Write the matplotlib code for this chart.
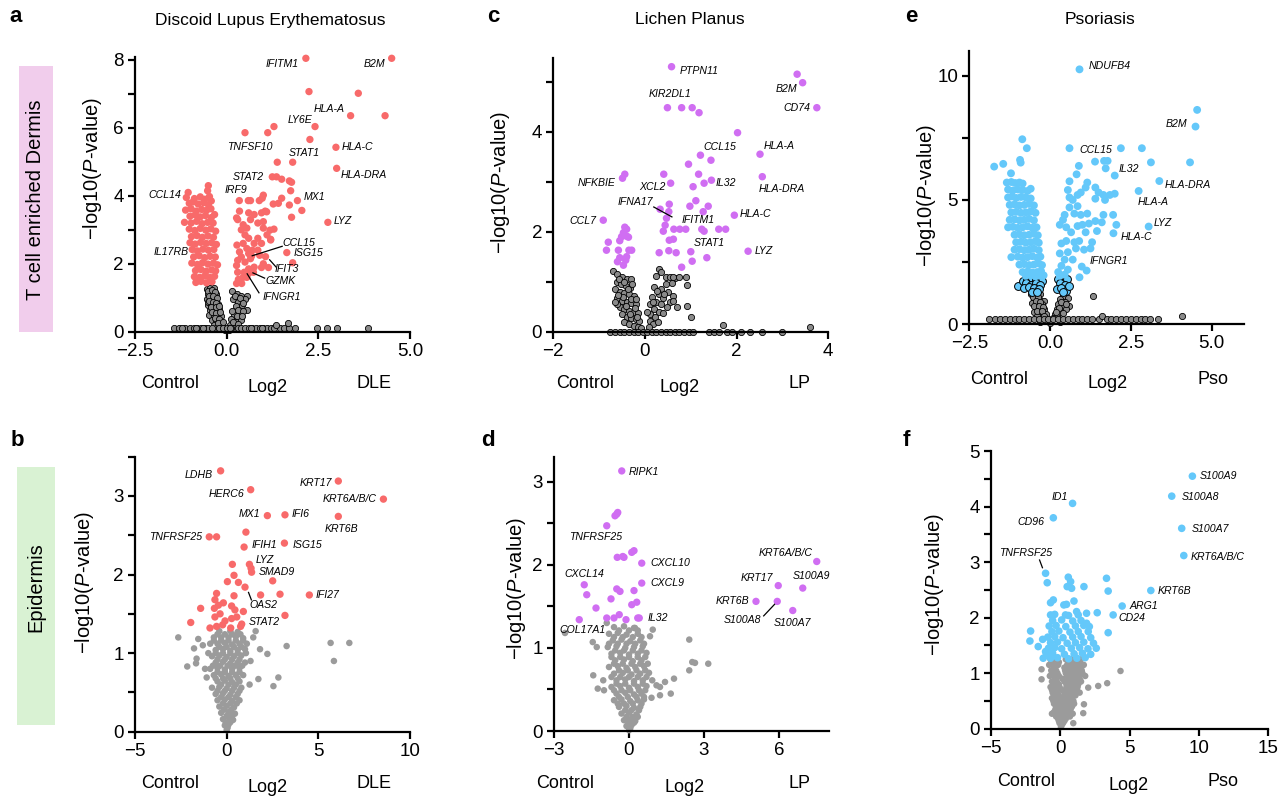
import matplotlib
matplotlib.use('Agg')
import matplotlib.pyplot as plt
from matplotlib.patches import Rectangle
from matplotlib.ticker import MultipleLocator, FixedLocator

plt.rcParams['font.family'] = ['Liberation Sans', 'DejaVu Sans']
plt.rcParams['mathtext.fontset'] = 'custom'
plt.rcParams['mathtext.rm'] = 'Liberation Sans'
plt.rcParams['mathtext.it'] = 'Liberation Sans:italic'

# ---------------- DATA ----------------
# Panel a: DLE, T cell enriched dermis
a_sig_top = [(2.16, 8.05), (4.5, 8.05), (2.245, 7.07), (3.59, 7.02), (3.38, 6.36), (4.32, 6.36),
             (2.41, 6.04), (1.29, 6.04), (1.12, 5.86), (0.5, 5.86), (2.27, 5.66), (2.98, 5.43),
             (1.38, 4.99), (1.8, 4.99), (3.0, 4.81), (1.245, 4.56), (1.36, 4.56), (1.5, 4.49),
             (1.71, 4.44), (1.77, 4.40), (1.745, 4.15), (0.345, 3.86), (0.59, 3.86), (0.65, 3.86),
             (0.89, 3.86), (1.0, 4.02), (0.97, 3.93), (1.93, 3.86), (2.05, 3.57), (1.71, 3.73),
             (1.5, 3.93), (1.41, 3.78), (1.27, 3.76), (1.09, 3.53), (2.76, 3.22), (1.77, 3.37),
             (1.64, 2.33), (1.8, 2.03), (1.06, 2.21), (1.14, 1.89), (0.95, 1.89), (0.73, 1.75),
             (0.6, 1.72), (0.32, 1.54), (0.27, 1.42), (0.41, 1.42), (1.18, 2.99), (1.29, 3.02),
             (1.0, 3.24), (1.2, 2.72), (-1.05, 4.1), (-0.5, 4.3)]
a_sig_right = [(0.45, 1.6), (0.3, 1.75), (0.27, 1.95), (0.3, 2.1), (0.4, 2.2), (0.35, 2.35),
               (0.28, 2.55), (0.45, 2.6), (0.55, 2.45), (0.6, 2.3), (0.5, 2.05), (0.65, 2.15),
               (0.7, 2.4), (0.75, 2.6), (0.85, 2.75), (0.6, 2.75), (0.5, 2.85), (0.4, 3.0),
               (0.3, 3.3), (0.45, 3.15), (0.55, 3.05), (0.65, 3.3), (0.75, 3.45), (0.6, 3.5),
               (0.35, 3.55), (0.27, 3.35), (0.95, 3.5), (1.05, 3.55), (0.85, 3.2), (1.0, 3.05),
               (1.1, 2.85), (0.95, 2.6), (0.85, 2.4), (1.2, 2.7), (0.9, 2.25), (1.0, 2.0),
               (0.75, 1.9), (0.6, 1.85), (0.55, 1.6), (0.48, 1.75), (0.68, 2.23)]
a_sig_left = [(-0.52, 4.15), (-1.1, 3.95), (-0.88, 3.92), (-0.72, 3.97), (-0.6, 3.9), (-0.47, 3.98),
              (-1.02, 3.78), (-0.92, 3.82), (-0.78, 3.76), (-0.63, 3.8), (-0.5, 3.74), (-0.42, 3.85),
              (-1.12, 3.58), (-0.97, 3.62), (-0.83, 3.55), (-0.68, 3.6), (-0.55, 3.57), (-0.43, 3.62),
              (-1.0, 3.4), (-0.86, 3.44), (-0.72, 3.38), (-0.58, 3.42), (-0.42, 3.36), (-0.33, 3.45),
              (-1.15, 3.22), (-0.97, 3.2), (-0.82, 3.25), (-0.67, 3.18), (-0.52, 3.22), (-0.37, 3.2),
              (-1.02, 3.02), (-0.87, 2.98), (-0.72, 3.04), (-0.57, 2.99), (-0.43, 3.03), (-0.3, 2.96),
              (-0.96, 2.8), (-0.81, 2.83), (-0.66, 2.78), (-0.51, 2.82), (-0.36, 2.78),
              (-1.0, 2.62), (-0.86, 2.58), (-0.71, 2.63), (-0.56, 2.6), (-0.41, 2.62), (-0.28, 2.57),
              (-0.94, 2.42), (-0.8, 2.38), (-0.65, 2.43), (-0.5, 2.4), (-0.35, 2.42),
              (-0.9, 2.2), (-0.75, 2.24), (-0.6, 2.18), (-0.45, 2.22), (-0.31, 2.2),
              (-0.95, 2.02), (-0.8, 1.98), (-0.66, 2.03), (-0.51, 1.99), (-0.36, 2.02), (-0.25, 1.97),
              (-0.85, 1.8), (-0.7, 1.83), (-0.56, 1.78), (-0.41, 1.82), (-0.3, 1.79),
              (-0.88, 1.62), (-0.74, 1.6), (-0.6, 1.64), (-0.46, 1.6), (-0.33, 1.63),
              (-0.84, 1.45), (-0.7, 1.48), (-0.55, 1.44), (-0.4, 1.47)]
a_ns = [(-0.55, 1.25), (-0.45, 1.3), (-0.35, 1.28), (-0.5, 1.1), (-0.4, 1.15), (-0.3, 1.1),
        (-0.55, 0.95), (-0.42, 0.98), (-0.3, 0.92), (-0.5, 0.8), (-0.38, 0.78), (-0.25, 0.82),
        (-0.45, 0.65), (-0.33, 0.62), (-0.22, 0.68), (-0.48, 0.5), (-0.35, 0.48), (-0.24, 0.52),
        (-0.15, 0.45), (-0.4, 0.35), (-0.28, 0.33), (-0.18, 0.3), (-0.35, 0.2), (-0.22, 0.18),
        (-0.12, 0.2), (-0.3, 0.1), (-0.15, 0.08), (-0.05, 0.05), (-0.52, 0.88), (-0.44, 0.72),
        (-0.5, 1.2), (-0.4, 1.22), (-0.32, 1.18), (-0.47, 1.04), (-0.36, 1.06), (-0.26, 1.0),
        (-0.48, 0.9), (-0.36, 0.88), (-0.28, 0.85), (-0.42, 0.72), (-0.3, 0.72), (-0.2, 0.75),
        (-0.4, 0.58), (-0.28, 0.56), (-0.18, 0.58), (-0.32, 0.4), (-0.2, 0.38), (-0.25, 0.25),
        (-0.1, 0.28), (-0.2, 0.12),
        (0.15, 1.2), (0.28, 1.12), (0.4, 1.05), (0.55, 1.05), (0.5, 0.95), (0.18, 0.95),
        (0.3, 0.88), (0.25, 0.75), (0.42, 0.78), (0.55, 0.65), (0.35, 0.55), (0.2, 0.5),
        (0.12, 0.38), (0.25, 0.3), (0.38, 0.35), (0.1, 0.2), (0.2, 0.12), (0.05, 0.05),
        (0.22, 1.05), (0.35, 0.98), (0.45, 0.85), (0.3, 0.65), (0.45, 0.6), (0.15, 0.62),
        (0.28, 0.45), (0.18, 0.28), (0.3, 0.22), (0.42, 0.45), (0.12, 0.12),
        (-1.45, 0.1), (-1.3, 0.1), (-1.15, 0.1), (-1.0, 0.1), (-0.9, 0.1), (-0.8, 0.1),
        (-0.7, 0.1), (-0.6, 0.1), (-0.5, 0.1), (-0.4, 0.1), (-0.2, 0.1), (-0.1, 0.1),
        (0.0, 0.1), (0.1, 0.1), (0.3, 0.1), (0.4, 0.1), (0.5, 0.1), (0.6, 0.1), (0.7, 0.1),
        (0.8, 0.1), (0.9, 0.1), (1.0, 0.1), (1.1, 0.1), (1.2, 0.1), (1.3, 0.1), (1.45, 0.1),
        (1.55, 0.1), (1.7, 0.1), (1.85, 0.1), (2.47, 0.1), (2.73, 0.1), (3.0, 0.12),
        (3.86, 0.1), (1.34, 0.2), (1.66, 0.25), (-1.22, 0.1), (-0.85, 0.1), (-0.65, 0.1),
        (0.65, 0.1), (0.95, 0.1)]
a_genes = ['IFITM1', 'B2M', 'HLA-A', 'LY6E', 'TNFSF10', 'STAT1', 'HLA-C', 'HLA-DRA', 'STAT2',
           'IRF9', 'CCL14', 'MX1', 'LYZ', 'IL17RB', 'CCL15', 'ISG15', 'IFIT3', 'GZMK', 'IFNGR1']

# Panel b: DLE, epidermis
b_sig = [(-0.33, 3.32), (1.31, 3.08), (6.09, 3.19), (8.55, 2.96), (2.22, 2.75), (3.18, 2.76),
         (6.09, 2.74), (-0.95, 2.48), (-0.55, 2.48), (1.05, 2.54), (0.95, 2.35), (3.15, 2.4),
         (1.24, 2.13), (1.33, 2.08), (1.36, 2.03), (0.31, 2.13), (0.4, 1.99), (0.04, 1.91),
         (0.64, 1.9), (1.0, 1.84), (2.51, 1.92), (1.85, 1.74), (2.91, 1.75), (4.51, 1.74),
         (-0.55, 1.76), (0.4, 1.73), (-1.42, 1.57), (-1.96, 1.39), (3.18, 1.48), (0.91, 1.53),
         (-0.64, 1.68), (-0.45, 1.61), (-0.18, 1.64), (0.27, 1.6), (0.45, 1.55), (-0.67, 1.57),
         (-0.64, 1.46), (-0.36, 1.5), (-0.09, 1.41), (0.27, 1.44), (0.55, 1.46), (-0.91, 1.32),
         (-0.55, 1.34), (-0.22, 1.36), (0.22, 1.32), (0.76, 1.34), (0.82, 1.37)]
b_ns = [(-0.4, 1.28), (0.2, 1.28), (0.6, 1.27), (1.58, 1.28), (-0.7, 1.2), (-0.3, 1.2), (0.1, 1.2),
        (0.5, 1.21), (0.9, 1.19), (-0.9, 1.12), (-0.5, 1.12), (-0.1, 1.13), (0.3, 1.11), (0.7, 1.12),
        (1.1, 1.12), (-0.6, 1.04), (-0.2, 1.05), (0.2, 1.03), (0.6, 1.04), (1.0, 1.05),
        (-0.8, 0.96), (-0.4, 0.97), (0.0, 0.95), (0.4, 0.96), (0.8, 0.97), (-0.6, 0.88),
        (-0.2, 0.89), (0.2, 0.87), (0.6, 0.88), (1.0, 0.88), (-0.9, 0.8), (-0.5, 0.81),
        (-0.1, 0.79), (0.3, 0.8), (0.7, 0.81), (-0.7, 0.72), (-0.3, 0.73), (0.1, 0.71),
        (0.5, 0.72), (0.9, 0.72), (-0.5, 0.64), (-0.1, 0.65), (0.3, 0.63), (0.7, 0.64),
        (-0.8, 0.56), (-0.4, 0.57), (0.0, 0.55), (0.4, 0.56), (0.8, 0.56), (-0.6, 0.48),
        (-0.2, 0.49), (0.2, 0.47), (0.6, 0.48), (-0.5, 0.4), (-0.1, 0.41), (0.3, 0.39),
        (0.7, 0.4), (-0.4, 0.32), (0.0, 0.33), (0.4, 0.31), (-0.3, 0.24), (0.1, 0.25),
        (0.45, 0.23), (-0.2, 0.16), (0.15, 0.17), (0.35, 0.15), (-0.1, 0.08), (0.1, 0.09),
        (0.0, 0.02),
        (-0.5, 1.24), (-0.1, 1.24), (0.3, 1.24), (0.75, 1.24), (-0.7, 1.16), (-0.3, 1.16),
        (0.1, 1.16), (0.5, 1.16), (0.9, 1.16), (-0.4, 1.08), (0.0, 1.08), (0.4, 1.08),
        (0.8, 1.08), (-0.6, 1.0), (-0.2, 1.0), (0.2, 1.0), (0.6, 1.0), (1.05, 1.0),
        (-0.5, 0.92), (-0.1, 0.92), (0.3, 0.92), (0.7, 0.92), (-0.75, 0.84), (-0.35, 0.84),
        (0.05, 0.84), (0.45, 0.84), (0.85, 0.84), (-0.5, 0.76), (-0.1, 0.76), (0.3, 0.76),
        (0.7, 0.76), (-0.6, 0.68), (-0.2, 0.68), (0.2, 0.68), (0.6, 0.68), (-0.3, 0.6),
        (0.1, 0.6), (0.5, 0.6), (-0.5, 0.52), (-0.1, 0.52), (0.3, 0.52), (0.7, 0.52),
        (-0.3, 0.44), (0.1, 0.44), (0.5, 0.44), (-0.2, 0.36), (0.2, 0.36), (0.55, 0.36),
        (-0.15, 0.28), (0.25, 0.28), (0.0, 0.2), (0.3, 0.2), (-0.05, 0.12), (0.2, 0.12),
        (0.05, 0.05),
        (-2.64, 1.2), (-2.15, 0.83), (-1.64, 0.93), (-1.55, 1.18), (-1.78, 1.06),
        (-1.67, 0.87), (-1.18, 0.8), (-1.09, 0.69), (5.67, 1.13), (6.69, 1.13), (5.85, 0.9),
        (3.27, 1.09), (2.22, 0.99), (2.82, 0.69), (2.55, 0.58), (1.73, 0.67), (1.82, 1.05),
        (1.45, 1.2), (1.3, 0.9), (1.25, 0.6), (-1.3, 1.1), (-1.0, 1.0)]
b_genes = ['LDHB', 'HERC6', 'KRT17', 'KRT6A/B/C', 'MX1', 'IFI6', 'KRT6B', 'TNFRSF25', 'IFIH1',
           'ISG15', 'LYZ', 'SMAD9', 'IFI27', 'OAS2', 'STAT2']

# Panel c: LP, T cell enriched dermis
c_sig = [(0.58, 5.3), (3.32, 5.15), (3.44, 4.98), (3.75, 4.48), (0.49, 4.48), (0.8, 4.48),
         (1.03, 4.48), (1.18, 4.38), (2.02, 3.98), (2.51, 3.55), (1.21, 3.53), (1.44, 3.43),
         (0.95, 3.35), (-0.44, 3.15), (-0.49, 3.07), (0.41, 3.15), (1.17, 3.15), (2.56, 3.1),
         (1.45, 3.03), (1.29, 2.97), (0.56, 2.97), (1.05, 2.9), (1.11, 2.62), (0.98, 2.51),
         (1.38, 2.51), (0.53, 2.55), (0.33, 2.45), (1.27, 2.4), (1.95, 2.33), (-0.91, 2.23),
         (0.47, 2.27), (0.52, 2.4), (0.44, 2.13), (0.63, 2.05), (0.76, 2.05), (0.89, 2.05),
         (1.24, 2.05), (1.29, 2.01), (1.61, 2.05), (1.76, 2.05), (0.4, 2.01), (0.53, 1.83),
         (0.62, 1.85), (1.0, 1.6), (1.03, 1.41), (1.35, 1.48), (0.8, 1.29), (0.68, 1.58),
         (0.52, 1.62), (0.31, 1.58), (2.25, 1.61), (-0.44, 2.09), (-0.4, 2.05), (-0.47, 1.98),
         (-0.55, 1.82), (-0.36, 1.89), (-0.8, 1.79), (-0.84, 1.63), (-0.58, 1.63), (-0.35, 1.63),
         (-0.29, 1.63), (-0.55, 1.48), (-0.4, 1.5), (-0.6, 1.4), (-0.47, 1.33), (-0.42, 1.43),
         (-0.51, 1.9), (-0.4, 1.91)]
c_ns = [(-0.69, 1.22), (-0.6, 1.15), (-0.5, 1.1), (-0.4, 1.05), (-0.3, 1.05), (-0.62, 1.0),
        (-0.52, 0.95), (-0.42, 0.92), (-0.33, 0.88), (-0.65, 0.85), (-0.55, 0.8), (-0.45, 0.78),
        (-0.35, 0.75), (-0.25, 0.72), (-0.6, 0.68), (-0.5, 0.62), (-0.4, 0.6), (-0.3, 0.58),
        (-0.2, 0.55), (-0.55, 0.5), (-0.45, 0.45), (-0.35, 0.42), (-0.25, 0.4), (-0.15, 0.38),
        (-0.5, 0.35), (-0.4, 0.3), (-0.3, 0.28), (-0.2, 0.25), (-0.12, 0.22), (-0.45, 0.2),
        (-0.35, 0.15), (-0.25, 0.12), (-0.15, 0.1), (-0.08, 0.08), (-0.6, 0.55), (-0.65, 0.6),
        (-0.48, 0.7), (-0.38, 0.85), (-0.56, 1.05), (-0.46, 1.0), (-0.28, 0.95), (-0.58, 0.74),
        (-0.3, 0.66), (-0.42, 0.52), (-0.22, 0.48), (-0.32, 0.35), (-0.18, 0.3), (-0.2, 0.65),
        (0.3, 1.25), (0.35, 1.2), (0.25, 1.12), (0.45, 1.1),
        (0.55, 1.1), (0.65, 1.08), (0.6, 0.98), (0.45, 0.95), (0.2, 0.9), (0.35, 0.85),
        (0.5, 0.8), (0.62, 0.72), (0.3, 0.75), (0.15, 0.7), (0.4, 0.68), (0.55, 0.6),
        (0.25, 0.6), (0.1, 0.55), (0.35, 0.55), (0.48, 0.5), (0.2, 0.45), (0.3, 0.4),
        (0.12, 0.35), (0.4, 0.38), (0.22, 0.3), (0.1, 0.22), (0.18, 0.15), (0.08, 0.1),
        (0.28, 0.2), (0.62, 0.62), (0.7, 0.5), (0.91, 0.51), (1.0, 0.29), (0.91, 0.93),
        (0.74, 1.1), (0.89, 1.09), (0.62, 1.1), (0.27, 0.82), (0.42, 0.75), (0.18, 0.6),
        (0.05, 0.4),
        (-0.76, 0.0), (-0.65, 0.0), (-0.55, 0.0), (-0.45, 0.0), (-0.35, 0.0), (-0.25, 0.0),
        (-0.15, 0.0), (-0.05, 0.0), (0.05, 0.0), (0.15, 0.0), (0.25, 0.0), (0.35, 0.0),
        (0.45, 0.0), (0.55, 0.0), (0.65, 0.0), (0.75, 0.0), (0.85, 0.0), (0.95, 0.0),
        (1.05, 0.0), (1.4, 0.0), (1.5, 0.0), (1.62, 0.0), (1.8, 0.0), (1.9, 0.0), (2.1, 0.0),
        (2.3, 0.0), (2.55, 0.0), (2.98, 0.0), (3.6, 0.1), (1.71, 0.13)]
c_genes = ['PTPN11', 'KIR2DL1', 'B2M', 'CD74', 'CCL15', 'HLA-A', 'NFKBIE', 'XCL2', 'IL32',
           'HLA-DRA', 'IFNA17', 'IFITM1', 'HLA-C', 'CCL7', 'STAT1', 'LYZ']

# Panel d: LP, epidermis
d_sig = [(-0.29, 3.13), (-0.49, 2.61), (-0.56, 2.59), (-0.45, 2.63), (-0.89, 2.47), (0.2, 2.17),
         (0.11, 2.15), (-0.47, 2.09), (-0.25, 2.1), (-0.2, 2.09), (0.51, 2.02), (0.51, 1.78),
         (-1.79, 1.76), (-1.69, 1.64), (-0.49, 1.71), (-0.36, 1.68), (-0.72, 1.59), (0.2, 1.69),
         (0.31, 1.55), (0.11, 1.52), (-1.32, 1.48), (-0.89, 1.36), (-0.6, 1.36), (-0.39, 1.4),
         (-0.12, 1.34), (0.35, 1.36), (0.41, 1.36), (-1.99, 1.34), (7.51, 2.04), (6.95, 1.72),
         (5.97, 1.75), (5.08, 1.56), (5.93, 1.56), (6.55, 1.45)]
d_ns = [(-0.6, 1.25), (-0.2, 1.26), (0.2, 1.24), (-0.8, 1.17), (-0.45, 1.18), (-0.1, 1.16),
        (0.35, 1.17), (-0.65, 1.09), (-0.3, 1.1), (0.05, 1.08), (0.45, 1.09), (-0.85, 1.01),
        (-0.5, 1.02), (-0.15, 1.0), (0.2, 1.01), (0.55, 1.02), (-0.7, 0.93), (-0.35, 0.94),
        (0.0, 0.92), (0.35, 0.93), (0.7, 0.94), (-0.55, 0.85), (-0.2, 0.86), (0.15, 0.84),
        (0.5, 0.85), (-0.8, 0.77), (-0.45, 0.78), (-0.1, 0.76), (0.25, 0.77), (0.6, 0.78),
        (-0.6, 0.69), (-0.25, 0.7), (0.1, 0.68), (0.45, 0.69), (0.8, 0.7), (-0.5, 0.61),
        (-0.15, 0.62), (0.2, 0.6), (0.55, 0.61), (-0.7, 0.53), (-0.35, 0.54), (0.0, 0.52),
        (0.35, 0.53), (0.7, 0.54), (-0.5, 0.45), (-0.15, 0.46), (0.2, 0.44), (0.5, 0.45),
        (-0.6, 0.37), (-0.3, 0.38), (0.05, 0.36), (0.35, 0.37), (0.6, 0.38), (-0.4, 0.29),
        (-0.1, 0.3), (0.2, 0.28), (0.45, 0.29), (-0.3, 0.21), (0.0, 0.22), (0.3, 0.2),
        (-0.2, 0.13), (0.05, 0.14), (0.25, 0.12), (-0.1, 0.06), (0.1, 0.07), (0.0, 0.01),
        (-0.4, 1.21), (0.0, 1.21), (0.35, 1.21), (-0.6, 1.13), (-0.25, 1.13), (0.15, 1.13),
        (0.5, 1.13), (-0.8, 1.05), (-0.45, 1.05), (-0.1, 1.05), (0.25, 1.05), (0.6, 1.05),
        (-0.55, 0.97), (-0.2, 0.97), (0.15, 0.97), (0.5, 0.97), (-0.7, 0.89), (-0.35, 0.89),
        (0.0, 0.89), (0.35, 0.89), (0.65, 0.89), (-0.6, 0.81), (-0.25, 0.81), (0.1, 0.81),
        (0.45, 0.81), (0.75, 0.81), (-0.4, 0.73), (-0.05, 0.73), (0.3, 0.73), (0.65, 0.73),
        (-0.7, 0.65), (-0.35, 0.65), (0.0, 0.65), (0.35, 0.65), (0.7, 0.65), (-0.5, 0.57),
        (-0.15, 0.57), (0.2, 0.57), (0.55, 0.57), (-0.6, 0.49), (-0.3, 0.49), (0.05, 0.49),
        (0.4, 0.49), (0.65, 0.49), (-0.4, 0.41), (-0.05, 0.41), (0.3, 0.41), (0.6, 0.41),
        (-0.45, 0.33), (-0.2, 0.33), (0.15, 0.33), (0.5, 0.33), (-0.15, 0.25), (0.1, 0.25),
        (0.4, 0.25), (-0.1, 0.17), (0.15, 0.17), (0.35, 0.17), (0.0, 0.1), (0.2, 0.1),
        (0.05, 0.03),
        (-2.56, 1.18), (-1.45, 1.07), (-1.29, 1.01), (-0.89, 1.3), (-1.43, 0.67), (-1.25, 0.51),
        (-1.03, 0.61), (-1.0, 0.49), (0.24, 1.24), (0.95, 1.22), (0.84, 1.14), (2.41, 1.1),
        (2.41, 0.73), (2.53, 0.83), (2.64, 0.82), (3.17, 0.81), (1.8, 0.63), (1.44, 0.59),
        (1.24, 0.53), (1.67, 0.45), (1.24, 0.43), (0.93, 0.61), (1.1, 0.55), (0.9, 0.4)]
d_genes = ['RIPK1', 'TNFRSF25', 'CXCL10', 'CXCL9', 'CXCL14', 'IL32', 'COL17A1', 'KRT6A/B/C',
           'S100A9', 'KRT17', 'KRT6B', 'S100A8', 'S100A7']

# Panel e: Psoriasis, T cell enriched dermis
e_sig = [(0.91, 10.25), (4.55, 8.62), (4.5, 7.95), (4.33, 6.51), (0.6, 7.08), (2.19, 7.08),
         (2.84, 7.08), (1.39, 6.54), (1.67, 6.57), (1.78, 6.57), (1.72, 6.27), (0.89, 6.37),
         (0.82, 6.03), (3.12, 6.51), (2.0, 5.98), (3.38, 5.76), (2.74, 5.36), (3.05, 3.93),
         (1.96, 3.66), (0.98, 2.32), (1.13, 2.16), (0.91, 1.89),
         (0.6, 5.75), (0.55, 5.4), (0.6, 5.1), (0.7, 5.0), (0.85, 5.2), (0.95, 5.3), (1.1, 5.5),
         (1.15, 5.7), (1.4, 5.5), (1.5, 5.3), (1.4, 5.05), (1.65, 5.2), (1.7, 5.0), (1.85, 5.2),
         (2.0, 5.25), (0.85, 4.75), (0.95, 4.4), (1.15, 4.45), (0.75, 4.45), (0.45, 4.4),
         (0.4, 4.2), (0.3, 4.0), (0.5, 3.9), (0.65, 3.7), (0.85, 3.95), (1.0, 4.0), (1.2, 4.05),
         (1.4, 4.15), (1.6, 4.1), (1.65, 4.4), (1.95, 4.4), (2.05, 4.0), (1.45, 3.75), (1.1, 3.7),
         (0.9, 3.35), (0.75, 3.3), (0.5, 3.35), (0.35, 3.25), (0.3, 2.85), (0.45, 2.6),
         (0.55, 2.9), (0.8, 3.05), (1.05, 3.0), (1.25, 3.05), (1.3, 3.3), (0.35, 2.35),
         (0.25, 2.1), (0.45, 2.0), (0.3, 1.95), (0.55, 2.2), (0.7, 2.6), (0.6, 4.7),
         (-0.86, 7.44), (-0.72, 7.08), (-0.93, 6.61), (-0.91, 6.5), (-1.45, 6.45), (-1.73, 6.34),
         (-1.21, 6.07), (-1.34, 5.7), (-1.2, 5.72), (-1.08, 5.68), (-0.95, 5.7), (-0.85, 5.66),
         (-1.3, 5.42), (-1.15, 5.38), (-1.0, 5.42), (-0.85, 5.4), (-0.7, 5.36), (-0.6, 5.45),
         (-1.3, 5.1), (-1.18, 5.14), (-1.05, 5.08), (-0.9, 5.12), (-0.75, 5.1), (-0.6, 5.06),
         (-1.25, 4.8), (-1.1, 4.82), (-0.95, 4.78), (-0.8, 4.8), (-0.65, 4.84), (-0.5, 4.78),
         (-1.2, 4.5), (-1.05, 4.52), (-0.9, 4.48), (-0.75, 4.5), (-0.6, 4.54), (-0.45, 4.48),
         (-1.25, 4.2), (-1.1, 4.22), (-0.95, 4.18), (-0.8, 4.2), (-0.65, 4.24), (-0.5, 4.18),
         (-1.3, 3.9), (-1.15, 3.92), (-1.0, 3.88), (-0.85, 3.9), (-0.7, 3.94), (-0.55, 3.88),
         (-0.42, 3.9), (-1.1, 3.6), (-0.95, 3.62), (-0.8, 3.58), (-0.65, 3.6), (-0.5, 3.64),
         (-0.38, 3.58), (-1.05, 3.3), (-0.9, 3.32), (-0.75, 3.28), (-0.6, 3.3), (-0.45, 3.34),
         (-0.35, 3.28), (-1.1, 3.0), (-0.95, 3.02), (-0.8, 2.98), (-0.65, 3.0), (-0.5, 3.04),
         (-0.35, 2.98), (-1.2, 2.7), (-1.0, 2.72), (-0.85, 2.68), (-0.7, 2.7), (-0.55, 2.74),
         (-0.4, 2.68), (-0.3, 2.72), (-0.95, 2.4), (-0.8, 2.42), (-0.65, 2.38), (-0.5, 2.4),
         (-0.35, 2.44), (-0.25, 2.38), (-0.85, 2.1), (-0.7, 2.12), (-0.55, 2.08), (-0.4, 2.1),
         (-0.28, 2.14), (-0.75, 1.95), (-0.6, 1.97), (-0.45, 1.93), (-0.3, 1.95), (-0.2, 1.97)]
e_mid = [(-0.98, 1.55), (-0.85, 1.75), (-0.7, 1.8), (-0.55, 1.85), (-0.45, 1.8), (-0.35, 1.85),
         (-0.25, 1.75), (-0.75, 1.65), (-0.6, 1.6), (-0.45, 1.65), (-0.3, 1.6), (-0.8, 1.45),
         (-0.65, 1.5), (-0.5, 1.45), (-0.35, 1.4), (-0.55, 1.3), (-0.4, 1.3), (0.26, 1.81),
         (0.52, 1.81), (0.3, 1.65), (0.45, 1.6), (0.2, 1.4), (0.35, 1.45), (0.5, 1.35),
         (0.6, 1.55), (0.4, 1.3)]
e_ns = [(-0.6, 1.2), (-0.45, 1.15), (-0.3, 1.2), (-0.5, 1.0), (-0.35, 1.0), (-0.2, 0.95),
        (-0.55, 0.85), (-0.4, 0.82), (-0.25, 0.8), (-0.45, 0.65), (-0.3, 0.62), (-0.18, 0.6),
        (-0.35, 0.45), (-0.22, 0.42), (-0.12, 0.4), (-0.28, 0.3), (-0.15, 0.25), (-0.08, 0.2),
        (-0.5, 0.5), (-0.4, 0.35), (-0.52, 1.1), (-0.38, 1.08), (-0.45, 0.92), (-0.3, 0.9),
        (-0.5, 0.72), (-0.35, 0.72), (-0.22, 0.7), (-0.42, 0.55), (-0.25, 0.52), (-0.2, 0.35),
        (0.4, 1.15), (0.55, 1.05), (0.3, 1.0), (0.45, 0.9),
        (0.25, 0.8), (0.38, 0.7), (0.2, 0.6), (0.3, 0.5), (0.15, 0.4), (0.22, 0.3), (0.1, 0.25),
        (0.6, 0.75), (0.5, 0.6), (1.34, 1.15), (0.0, 0.05), (-0.3, 0.08), (0.3, 0.08),
        (0.35, 0.9), (0.48, 0.8), (0.28, 0.65), (0.18, 0.48), (0.4, 0.45),
        (-1.9, 0.2), (-1.7, 0.2), (-1.55, 0.2), (-1.4, 0.2), (-1.25, 0.2), (-1.1, 0.2),
        (-0.95, 0.2), (-0.8, 0.2), (-0.65, 0.2), (-0.5, 0.2), (-0.35, 0.2), (-0.2, 0.2),
        (-0.05, 0.2), (0.1, 0.2), (0.25, 0.2), (0.4, 0.2), (0.55, 0.2), (0.7, 0.2), (0.85, 0.2),
        (1.0, 0.2), (1.15, 0.2), (1.3, 0.2), (1.5, 0.2), (1.6, 0.35), (1.75, 0.2), (1.9, 0.2),
        (2.05, 0.2), (2.2, 0.2), (2.35, 0.2), (2.5, 0.2), (2.65, 0.2), (2.8, 0.2), (2.95, 0.2),
        (3.1, 0.2), (3.35, 0.2), (4.08, 0.35)]
e_genes = ['NDUFB4', 'B2M', 'CCL15', 'IL32', 'HLA-DRA', 'HLA-A', 'LYZ', 'HLA-C', 'IFNGR1']

# Panel f: Psoriasis, epidermis
f_sig = [(9.54, 4.55), (8.05, 4.19), (0.89, 4.06), (-0.5, 3.8), (8.77, 3.61), (8.92, 3.12),
         (-1.06, 2.8), (-0.94, 2.63), (0.58, 2.73), (0.75, 2.65), (0.5, 2.56), (0.82, 2.53),
         (1.71, 2.56), (3.34, 2.71), (3.46, 2.48), (6.54, 2.49), (4.47, 2.21), (3.82, 2.05),
         (2.67, 2.09), (3.46, 1.73), (-2.14, 1.76), (-2.19, 1.58), (-1.59, 1.48), (-1.27, 1.61),
         (-1.06, 1.39), (-1.23, 1.27), (-0.5, 2.32), (-0.7, 2.27), (0.26, 2.23), (0.45, 2.24),
         (0.99, 2.3), (0.38, 2.05), (1.18, 2.11), (1.9, 2.08), (1.9, 1.9), (2.02, 1.75),
         (-0.7, 2.05), (-0.4, 2.06), (0.6, 2.04), (1.3, 2.05), (-0.55, 1.95), (0.1, 1.96),
         (0.9, 1.94), (1.5, 1.95), (-0.8, 1.85), (-0.3, 1.86), (0.4, 1.84), (1.1, 1.85),
         (1.7, 1.86), (2.1, 1.84), (-0.6, 1.75), (-0.1, 1.76), (0.7, 1.74), (1.3, 1.75),
         (-0.9, 1.65), (-0.4, 1.66), (0.2, 1.64), (0.9, 1.65), (1.5, 1.66), (2.2, 1.64),
         (-0.7, 1.55), (-0.2, 1.56), (0.5, 1.54), (1.1, 1.55), (1.7, 1.56), (2.4, 1.54),
         (-0.85, 1.45), (-0.4, 1.46), (0.1, 1.44), (0.8, 1.45), (1.4, 1.46), (2.0, 1.44),
         (2.6, 1.45), (-1.0, 1.35), (-0.55, 1.36), (0.3, 1.34), (1.0, 1.35), (1.6, 1.36),
         (2.2, 1.34), (-0.7, 1.27), (-0.2, 1.28), (0.6, 1.26), (1.2, 1.27), (1.8, 1.28)]
f_ns = [(-0.7, 1.25), (-0.3, 1.25), (0.4, 1.25), (0.8, 1.25), (1.2, 1.25), (1.5, 1.25),
        (-0.8, 1.15), (-0.5, 1.15), (-0.15, 1.15), (0.5, 1.15), (0.9, 1.15), (1.3, 1.15),
        (1.7, 1.15), (-0.65, 1.05), (-0.3, 1.05), (0.35, 1.05), (0.75, 1.05), (1.15, 1.05),
        (1.55, 1.05), (-0.75, 0.95), (-0.45, 0.95), (-0.1, 0.95), (0.5, 0.95), (0.9, 0.95),
        (1.3, 0.95), (1.8, 0.95), (-0.6, 0.85), (-0.25, 0.85), (0.3, 0.85), (0.7, 0.85),
        (1.1, 0.85), (1.5, 0.85), (-0.7, 0.75), (-0.4, 0.75), (-0.05, 0.75), (0.45, 0.75),
        (0.85, 0.75), (1.25, 0.75), (-0.55, 0.65), (-0.2, 0.65), (0.3, 0.65), (0.65, 0.65),
        (1.0, 0.65), (1.4, 0.65), (-0.6, 0.55), (-0.3, 0.55), (0.1, 0.55), (0.5, 0.55),
        (0.85, 0.55), (-0.45, 0.45), (-0.15, 0.45), (0.25, 0.45), (0.6, 0.45), (1.0, 0.45),
        (-0.35, 0.35), (0.0, 0.35), (0.4, 0.35), (0.75, 0.35), (-0.6, 0.27), (-0.25, 0.27),
        (0.15, 0.27), (0.5, 0.27), (0.9, 0.27), (-0.15, 0.18), (0.1, 0.18), (0.4, 0.18),
        (-0.05, 0.1), (0.2, 0.1), (0.05, 0.03),
        (-0.55, 1.2), (-0.1, 1.2), (0.6, 1.2), (1.0, 1.2), (1.4, 1.2), (-0.45, 1.1), (0.3, 1.1),
        (0.7, 1.1), (1.1, 1.1), (1.5, 1.1), (-0.6, 1.0), (-0.2, 1.0), (0.4, 1.0), (0.8, 1.0),
        (1.2, 1.0), (1.6, 1.0), (-0.35, 0.9), (0.15, 0.9), (0.6, 0.9), (1.0, 0.9), (1.4, 0.9),
        (-0.5, 0.8), (-0.1, 0.8), (0.45, 0.8), (0.85, 0.8), (1.3, 0.8), (-0.6, 0.7), (-0.3, 0.7),
        (0.1, 0.7), (0.5, 0.7), (0.9, 0.7), (1.2, 0.7), (-0.45, 0.6), (-0.1, 0.6), (0.35, 0.6),
        (0.7, 0.6), (1.1, 0.6), (-0.5, 0.5), (-0.2, 0.5), (0.2, 0.5), (0.65, 0.5), (0.95, 0.5),
        (-0.3, 0.4), (0.1, 0.4), (0.45, 0.4), (0.85, 0.4), (-0.45, 0.3), (-0.1, 0.3), (0.3, 0.3),
        (0.6, 0.3), (-0.3, 0.22), (0.0, 0.22), (0.25, 0.22), (0.7, 0.22), (-0.1, 0.14),
        (0.3, 0.14), (0.1, 0.06),
        (-1.35, 1.07), (-1.35, 0.89), (4.35, 1.04), (3.39, 0.82), (2.74, 0.77), (2.02, 0.74),
        (1.71, 0.44), (1.66, 0.28), (0.94, 0.1), (1.37, 0.98)]
f_genes = ['S100A9', 'S100A8', 'ID1', 'CD96', 'S100A7', 'KRT6A/B/C', 'TNFRSF25', 'KRT6B',
           'ARG1', 'CD24']

# ---------------- LAYOUT ----------------
W, H = 1283, 800
RED = '#F86A6A'
PURPLE = '#D06EF2'
BLUE = '#64C8FA'
GRAY_E = '#8A8A8A'
GRAY = '#9B9B9B'

# label text anchors (x, y, ha) in data coords, in the order of the gene lists
a_lab = [(1.97, 7.87, 'right'), (4.32, 7.87, 'right'), (3.23, 6.56, 'right'), (2.34, 6.23, 'right'),
         (1.245, 5.45, 'right'), (1.7, 5.27, 'left'), (3.14, 5.45, 'left'), (3.12, 4.61, 'left'),
         (1.02, 4.56, 'right'), (0.55, 4.17, 'right'), (-1.25, 4.02, 'right'), (2.09, 3.97, 'left'),
         (2.91, 3.26, 'left'), (-1.03, 2.34, 'right'), (1.53, 2.62, 'left'), (1.82, 2.33, 'left'),
         (1.32, 1.86, 'left'), (1.06, 1.5, 'left'), (0.97, 1.03, 'left')]
a_lines = [(1.53, 2.52, 0.68, 2.23), (1.36, 1.89, 1.16, 2.13), (1.05, 1.57, 0.7, 1.74),
           (0.89, 1.13, 0.55, 1.72)]
b_lab = [(-0.76, 3.27, 'right'), (0.95, 3.03, 'right'), (5.73, 3.16, 'right'), (8.18, 2.96, 'right'),
         (1.85, 2.77, 'right'), (3.55, 2.77, 'left'), (5.33, 2.58, 'left'), (-1.31, 2.48, 'right'),
         (1.36, 2.38, 'left'), (3.58, 2.38, 'left'), (1.6, 2.19, 'left'), (1.76, 2.03, 'left'),
         (4.87, 1.74, 'left'), (1.22, 1.61, 'left'), (1.18, 1.4, 'left')]
b_lines = [(1.18, 1.78, 1.36, 1.67)]
c_lab = [(0.76, 5.21, 'left'), (0.07, 4.75, 'left'), (3.32, 4.85, 'right'), (3.6, 4.47, 'right'),
         (1.27, 3.7, 'left'), (2.6, 3.71, 'left'), (-0.64, 2.97, 'right'), (0.45, 2.9, 'right'),
         (1.55, 2.97, 'left'), (2.47, 2.85, 'left'), (0.18, 2.59, 'right'), (0.8, 2.23, 'left'),
         (2.07, 2.35, 'left'), (-1.05, 2.22, 'right'), (1.07, 1.77, 'left'), (2.4, 1.61, 'left')]
c_lines = [(0.18, 2.5, 0.6, 2.29)]
d_lab = [(0.0, 3.12, 'left'), (-2.39, 2.34, 'left'), (0.84, 2.02, 'left'), (0.84, 1.78, 'left'),
         (-2.6, 1.89, 'left'), (0.75, 1.36, 'left'), (-2.79, 1.22, 'left'), (7.35, 2.14, 'right'),
         (6.53, 1.87, 'left'), (5.77, 1.84, 'right'), (4.81, 1.56, 'right'), (5.27, 1.34, 'right'),
         (5.77, 1.3, 'left')]
d_lines = [(5.37, 1.38, 5.84, 1.53)]
e_lab = [(1.19, 10.39, 'left'), (4.26, 8.04, 'right'), (0.91, 7.01, 'left'), (2.13, 6.23, 'left'),
         (3.53, 5.6, 'left'), (2.71, 4.9, 'left'), (3.22, 4.06, 'left'), (2.19, 3.5, 'left'),
         (1.22, 2.56, 'left')]
e_lines = []
f_lab = [(10.07, 4.55, 'left'), (8.75, 4.17, 'left'), (0.58, 4.17, 'right'), (-1.11, 3.73, 'right'),
         (9.47, 3.59, 'left'), (9.4, 3.09, 'left'), (-4.4, 3.16, 'left'), (7.07, 2.49, 'left'),
         (5.02, 2.21, 'left'), (4.18, 1.99, 'left')]
f_lines = [(-1.51, 3.05, -1.27, 2.89)]

fig = plt.figure(figsize=(W / 100, H / 100), dpi=100)


def px_axes(left, bottom_px, width_px, height_px):
    return fig.add_axes([left / W, 1 - bottom_px / H, width_px / W, height_px / H])


def style(ax, xlim, ylim, xticks, ymaj, ymin):
    ax.set_xlim(*xlim)
    ax.set_ylim(*ylim)
    for s in ('top', 'right'):
        ax.spines[s].set_visible(False)
    for s in ('left', 'bottom'):
        ax.spines[s].set_linewidth(1.6)
    ax.xaxis.set_major_locator(FixedLocator(xticks))
    ax.yaxis.set_major_locator(MultipleLocator(ymaj))
    ax.yaxis.set_minor_locator(MultipleLocator(ymin))
    ax.tick_params(which='major', direction='out', length=5, width=1.6, labelsize=13.5, pad=3)
    ax.tick_params(which='minor', direction='out', length=5, width=1.6)
    ax.tick_params(axis='x', which='minor', length=0)
    ax.set_facecolor('none')


def pts(ax, data, color, s, ec='none', lw=0.0, z=2):
    ax.scatter([p[0] for p in data], [p[1] for p in data], s=s, c=color, edgecolors=ec,
               linewidths=lw, zorder=z, clip_on=False)


def labels(ax, genes, lay, lines):
    for g, (x, y, ha) in zip(genes, lay):
        ax.text(x, y, g, fontsize=7.6, style='italic', ha=ha, va='center', zorder=5)
    for (x1, y1, x2, y2) in lines:
        ax.plot([x1, x2], [y1, y2], color='black', lw=0.9, zorder=5, solid_capstyle='butt')


# panel a
ax = px_axes(135, 331.7, 275, 275.1)
style(ax, (-2.5, 5.0), (0, 8.1), [-2.5, 0, 2.5, 5.0], 2, 1)
pts(ax, a_ns, GRAY_E, 20, 'black', 0.6)
pts(ax, a_sig_left + a_sig_right + a_sig_top, RED, 28, z=3)
labels(ax, a_genes, a_lab, a_lines)

# panel c
ax = px_axes(553.3, 331.7, 275, 273.5)
style(ax, (-2, 4), (0, 5.47), [-2, 0, 2, 4], 2, 1)
pts(ax, c_ns, GRAY_E, 20, 'black', 0.6)
pts(ax, c_sig, PURPLE, 29, z=3)
labels(ax, c_genes, c_lab, c_lines)

# panel e
ax = px_axes(969.3, 324.3, 274.7, 273.6)
style(ax, (-2.5, 6.0), (0, 11), [-2.5, 0, 2.5, 5.0], 5, 2.5)
pts(ax, e_ns, GRAY_E, 20, 'black', 0.6)
pts(ax, e_mid, BLUE, 32, 'black', 0.7, z=3)
pts(ax, e_sig, BLUE, 32, z=4)
labels(ax, e_genes, e_lab, e_lines)

# panel b
ax = px_axes(135, 731.7, 275, 275)
style(ax, (-5, 10), (0, 3.5), [-5, 0, 5, 10], 1, 0.5)
pts(ax, b_ns, GRAY, 22)
pts(ax, b_sig, RED, 28, z=3)
labels(ax, b_genes, b_lab, b_lines)

# panel d
ax = px_axes(554, 731, 275, 274.2)
style(ax, (-3, 8), (0, 3.3), [-3, 0, 3, 6], 1, 0.5)
pts(ax, d_ns, GRAY, 22)
pts(ax, d_sig, PURPLE, 28, z=3)
labels(ax, d_genes, d_lab, d_lines)

# panel f
ax = px_axes(991, 728.7, 277, 277.5)
style(ax, (-5, 15), (0, 5), [-5, 0, 5, 10, 15], 1, 0.5)
pts(ax, f_ns, GRAY, 22)
pts(ax, f_sig, BLUE, 30, z=3)
labels(ax, f_genes, f_lab, f_lines)


def ftext(x, y, s, **kw):
    fig.text(x / W, 1 - y / H, s, **kw)


# titles
ftext(270, 20, 'Discoid Lupus Erythematosus', fontsize=12.5, ha='center', va='center')
ftext(690, 20, 'Lichen Planus', fontsize=12.5, ha='center', va='center')
ftext(1100, 20, 'Psoriasis', fontsize=12.5, ha='center', va='center')

# panel letters
for (x, y, s) in [(16, 17, 'a'), (493, 17, 'c'), (911, 17, 'e'), (17, 440, 'b'), (488, 440, 'd'),
                  (906, 440, 'f')]:
    ftext(x, y, s, fontsize=16, fontweight='bold', ha='center', va='center')

# y labels
YL = '\u2212log10($\\mathit{P}$-value)'
for (x, y) in [(92, 168), (501, 182), (926, 195), (85, 582), (517, 588), (935, 584)]:
    ftext(x, y, YL, fontsize=14.5, rotation=90, ha='center', va='center')

# group / direction labels under x axes
for (xc, xl, xr, y, right) in [(170, 268, 374, 383, 'DLE'), (585, 680, 800, 383, 'LP'),
                                 (999, 1108, 1213, 380, 'Pso'), (170, 268, 374, 783, 'DLE'),
                                 (565, 685, 800, 784, 'LP'), (1026, 1129, 1223, 782, 'Pso')]:
    ftext(xc, y, 'Control', fontsize=13, ha='center', va='center')
    ftext(xl, y + 4, 'Log2', fontsize=13, ha='center', va='center')
    ftext(xr, y, right, fontsize=13, ha='center', va='center')

# side boxes
fig.patches.append(Rectangle((19 / W, 1 - 332 / H), 34 / W, 266 / H, transform=fig.transFigure,
                             facecolor='#F1CDEC', edgecolor='none', zorder=0))
fig.patches.append(Rectangle((17 / W, 1 - 725 / H), 38 / W, 258 / H, transform=fig.transFigure,
                             facecolor='#D9F2D3', edgecolor='none', zorder=0))
ftext(36, 200, 'T cell enriched Dermis', fontsize=14.5, rotation=90, ha='center', va='center')
ftext(36, 587, 'Epidermis', fontsize=14.5, rotation=90, ha='center', va='center')

fig.savefig('out.png', dpi=100)
